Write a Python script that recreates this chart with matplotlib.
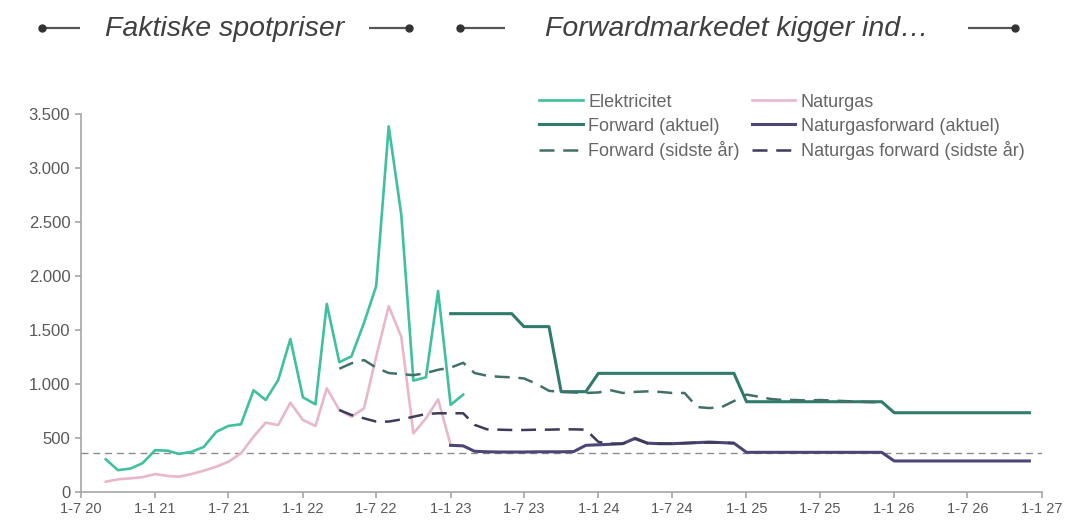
import pandas as pd
import matplotlib
matplotlib.use("Agg")
import matplotlib.pyplot as plt
from matplotlib.ticker import FuncFormatter, MultipleLocator
import matplotlib.dates as mdates

plt.rcParams['font.family'] = ['Liberation Sans', 'DejaVu Sans']

# Spotpriser (månedlige)
spot_dates = pd.date_range("2020-09-01", periods=30, freq="MS")
elektricitet = [300, 200, 215, 265, 385, 380, 350, 370, 415, 555, 610, 625,
                940, 850, 1035, 1415, 875, 810, 1740, 1200, 1255, 1565, 1905, 3385,
                2570, 1030, 1060, 1860, 805, 900]
gas_dates = pd.date_range("2020-09-01", periods=29, freq="MS")
naturgas = [93, 115, 124, 135, 164, 146, 139, 164, 195, 232, 278, 356,
            510, 640, 618, 825, 665, 609, 958, 757, 695, 773, 1250, 1720,
            1437, 541, 680, 856, 433]

# Forward (aktuel)
fwd_dates = pd.date_range("2023-01-01", periods=48, freq="MS")
forward_el = [1650] * 6 + [1530] * 3 + [927] * 3 + [1097] * 12 + [834] * 12 + [732] * 12
forward_gas = ([430, 425, 375, 370, 368, 368, 368, 370, 370, 370, 372, 430]
               + [435, 440, 445, 495, 450, 445, 445, 450, 455, 460, 455, 450]
               + [365] * 12 + [285] * 12)

# Forward (sidste år)
last_el_dates = pd.date_range("2022-04-01", periods=45, freq="MS")
forward_el_last = [1140, 1190, 1220, 1150, 1100, 1090, 1080, 1100, 1130,
                   1150, 1195, 1100, 1075, 1065, 1060, 1050, 1000, 935, 925, 920, 915,
                   920, 940, 915, 925, 930, 925, 915, 915, 785, 775, 785, 840,
                   900, 880, 860, 850, 850, 845, 850, 845, 840, 835, 830, 830]
last_gas_dates = pd.date_range("2022-04-01", periods=33, freq="MS")
forward_gas_last = [757, 711, 680, 650, 650, 670, 695, 720, 727,
                    727, 727, 620, 578, 575, 572, 572, 575, 575, 578, 578, 575,
                    462, 445, 445, 490, 450, 445, 445, 450, 455, 455, 455, 450]

ref_level = 355

fig = plt.figure(figsize=(10.69, 5.23), dpi=100)
ax = fig.add_axes([0.0755, 0.0598, 0.8992, 0.7222])

c_el = '#3fc09f'
c_gas = '#e9b7cb'
c_fel = '#2f7b6d'
c_fgas = '#4b4677'
c_fel_last = '#41706a'
c_fgas_last = '#3d3b5a'

ax.axhline(ref_level, color='#8c8c8c', lw=1.0, dashes=(5, 3.5), zorder=1)
l1, = ax.plot(spot_dates, elektricitet, color=c_el, lw=1.9, label='Elektricitet', zorder=3)
l2, = ax.plot(gas_dates, naturgas, color=c_gas, lw=1.9, label='Naturgas', zorder=2)
l3, = ax.plot(fwd_dates, forward_el, color=c_fel, lw=2.2, label='Forward (aktuel)', zorder=4)
l4, = ax.plot(fwd_dates, forward_gas, color=c_fgas, lw=2.2, label='Naturgasforward (aktuel)', zorder=4)
l5, = ax.plot(last_el_dates, forward_el_last, color=c_fel_last, lw=1.8, dashes=(6, 3.5),
              label='Forward (sidste år)', zorder=5)
l6, = ax.plot(last_gas_dates, forward_gas_last, color=c_fgas_last, lw=1.8, dashes=(6, 3.5),
              label='Naturgas forward (sidste år)', zorder=5)

ax.set_xlim(pd.Timestamp("2020-07-01"), pd.Timestamp("2027-01-01"))
ax.set_ylim(0, 3500)
ax.yaxis.set_major_locator(MultipleLocator(500))
ax.yaxis.set_major_formatter(FuncFormatter(lambda v, p: f"{int(v):,}".replace(',', '.')))
ax.xaxis.set_major_locator(mdates.MonthLocator(bymonth=[1, 7]))
ax.xaxis.set_major_formatter(FuncFormatter(
    lambda v, p: (lambda d: f"{d.day}-{d.month} {d.year % 100:02d}")(mdates.num2date(v))))

for s in ['top', 'right']:
    ax.spines[s].set_visible(False)
for s in ['left', 'bottom']:
    ax.spines[s].set_color('#a6a6a6')
    ax.spines[s].set_linewidth(1.2)
ax.tick_params(colors='#a6a6a6', labelcolor='#595959', length=4, width=1.2)
ax.tick_params(axis='y', labelsize=12)
ax.tick_params(axis='x', labelsize=10.5)

fig.legend(handles=[l1, l3, l5, l2, l4, l6], ncol=2, loc='upper left',
           bbox_to_anchor=(0.496, 0.838), frameon=False, fontsize=13,
           labelcolor='#666666', handlelength=2.4, handletextpad=0.3,
           columnspacing=0.7, labelspacing=0.38, borderpad=0)

# Overskrift
hdr = fig.add_axes([0, 0, 1, 1], zorder=-1)
hdr.set_xlim(0, 1069)
hdr.set_ylim(523, 0)
hdr.axis('off')
hy = 28
for x0, x1, dot in [(42, 80, 42), (369, 409, 409), (460, 505, 460), (968, 1015, 1015)]:
    hdr.plot([x0, x1], [hy, hy], color='#555555', lw=1.6, solid_capstyle='butt')
    hdr.plot([dot], [hy], 'o', color='#333333', ms=5)
hdr.text(105, hy + 1, 'Faktiske spotpriser', fontsize=20.5, style='italic', color='#404040',
         va='center', ha='left')
hdr.text(545, hy + 1, 'Forwardmarkedet kigger ind…', fontsize=20.5, style='italic', color='#404040',
         va='center', ha='left')

fig.savefig('out.png', dpi=100)
